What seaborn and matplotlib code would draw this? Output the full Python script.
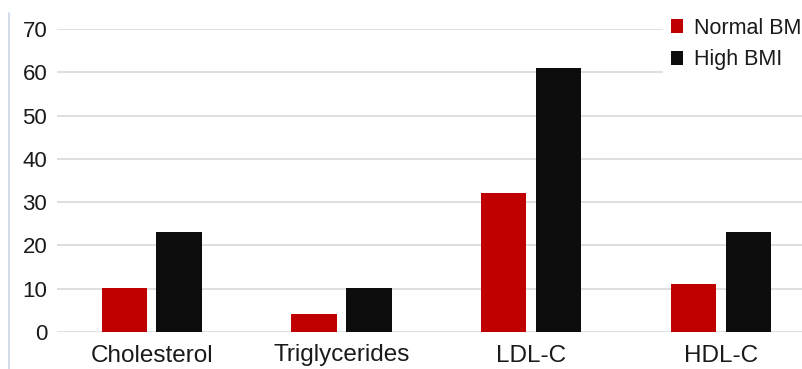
import numpy as np
import pandas as pd
import matplotlib
matplotlib.use('Agg')
import matplotlib.pyplot as plt
from matplotlib.lines import Line2D
import seaborn as sns

# data
categories = ["Cholesterol", "Triglycerides", "LDL-C", "HDL-C"]
groups = ["Normal BMI", "High BMI"]
normal_bmi = [10.2, 4.2, 32.0, 11.2]
high_bmi = [23.2, 10.2, 61.0, 23.1]
y_ticks = [0, 10, 20, 30, 40, 50, 60, 70]

df = pd.DataFrame({
    "marker": categories * 2,
    "group": [groups[0]] * len(categories) + [groups[1]] * len(categories),
    "value": normal_bmi + high_bmi,
})

sns.set_style("white")
plt.rcParams['font.family'] = ['Liberation Sans', 'DejaVu Sans']

fig = plt.figure(figsize=(8.03, 3.69), dpi=100)
ax = fig.add_axes([56.9 / 803, 37 / 369, 758.8 / 803, 303 / 369])

sns.barplot(data=df, x="marker", y="value", hue="group", order=categories,
            hue_order=groups, palette=["#c00000", "#0d0d0d"], saturation=1,
            width=0.577, gap=0.17, linewidth=0, ax=ax, zorder=3)

ax.set_xlim(-0.5, 3.5)
ax.set_ylim(0, 70)
ax.set_yticks(y_ticks)
ax.yaxis.grid(True, color="#dcdcdc", linewidth=1.3, zorder=0)
ax.set_axisbelow(True)
for s in ax.spines.values():
    s.set_visible(False)
ax.set_xlabel("")
ax.set_ylabel("")
ax.tick_params(axis="y", length=0, pad=7, labelsize=16, labelcolor="#1a1a1a")
ax.tick_params(axis="x", length=0, pad=9, labelsize=17.5, labelcolor="#1a1a1a")

# legend at the top right, running off the figure edge
handles, labels = ax.get_legend_handles_labels()
leg = ax.legend(handles, labels, loc="upper left",
                bbox_to_anchor=(663 / 803, 1 - 10 / 369),
                bbox_transform=fig.transFigure, fontsize=15.5,
                handlelength=0.6, handleheight=0.6, handletextpad=0.5,
                labelspacing=0.5, borderpad=0.35, borderaxespad=0,
                frameon=True, fancybox=False, framealpha=1)
leg.get_frame().set_facecolor("white")
leg.get_frame().set_edgecolor("none")
for t in leg.get_texts():
    t.set_color("#1a1a1a")

# thin vertical rule on the left edge
fig.add_artist(Line2D([8.5 / 803, 8.5 / 803], [0, 1 - 13 / 369],
                      transform=fig.transFigure, color="#c9d5e4", linewidth=1.2))

plt.savefig("out.png", dpi=100)
plt.close()
